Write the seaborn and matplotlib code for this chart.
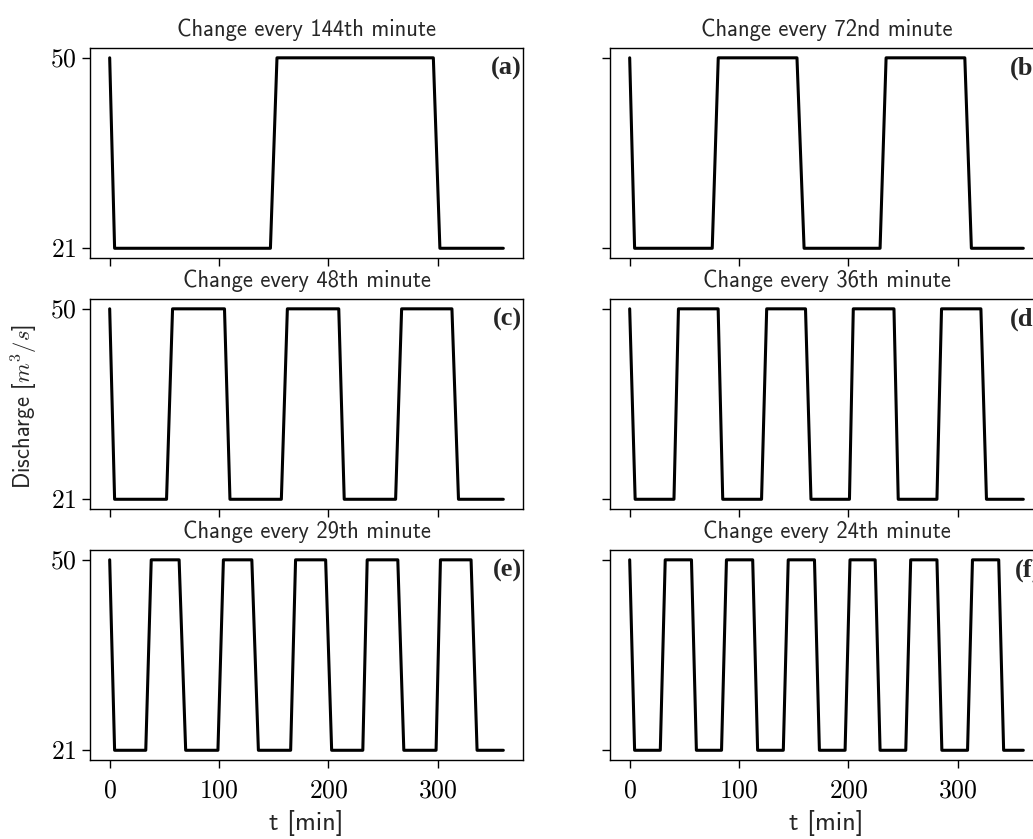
import numpy as np
import pandas as pd
import matplotlib
matplotlib.use("Agg")
import matplotlib.pyplot as plt
import seaborn as sns

# ---- data (corner points) ----
titles = ["Change every 144th minute", "Change every 72nd minute",
          "Change every 48th minute", "Change every 36th minute",
          "Change every 29th minute", "Change every 24th minute"]
panel_labels = ["(a)", "(b)", "(c)", "(d)", "(e)", "(f)"]

t_a = [0, 4.5, 147, 153, 296, 302, 360]
q_a = [50, 21, 21, 50, 50, 21, 21]

t_b = [0, 4.5, 75.5, 81, 153, 159.5, 229, 234.5, 306.5, 312.5, 360]
q_b = [50, 21, 21, 50, 50, 21, 21, 50, 50, 21, 21]

t_c = [0, 4.5, 52, 57.5, 105, 110, 157, 162.5, 209.5, 214.5, 261.5, 267, 313, 319, 360]
q_c = [50, 21, 21, 50, 50, 21, 21, 50, 50, 21, 21, 50, 50, 21, 21]

t_d = [0, 5, 40.5, 44.6, 80.9, 85.1, 120.6, 125.3, 160.8, 165.8, 201, 204.5,
       241.7, 245.6, 281, 285.2, 321.2, 326.3, 360]
q_d = [50, 21, 21, 50, 50, 21, 21, 50, 50, 21, 21, 50, 50, 21, 21, 50, 50, 21, 21]

t_e = [0, 4.5, 33, 38, 63.5, 69.5, 99, 104, 130, 136, 165.5, 170, 197.5, 203,
       231.5, 235.5, 263.5, 269, 298.5, 302.5, 330.5, 336, 360]
q_e = [50, 21, 21, 50, 50, 21, 21, 50, 50, 21, 21, 50, 50, 21, 21, 50, 50, 21,
       21, 50, 50, 21, 21]

t_f = [0, 4.5, 28, 32.5, 56.5, 61, 84, 88.5, 112.5, 117, 140.5, 145, 169, 173.5,
       197, 201.5, 224.5, 229, 252.5, 257, 281, 285.5, 309, 313.5, 337.5, 342, 360]
q_f = [50, 21, 21, 50, 50, 21, 21, 50, 50, 21, 21, 50, 50, 21, 21, 50, 50, 21,
       21, 50, 50, 21, 21, 50, 50, 21, 21]

y_ticks = [21, 50]
x_ticks = [0, 100, 200, 300]
x_label = "t [min]"
y_label = "Discharge [$m^3/s$]"

series = [(t_a, q_a), (t_b, q_b), (t_c, q_c), (t_d, q_d), (t_e, q_e), (t_f, q_f)]

# ---- style ----
sns.set_style("ticks")
plt.rcParams["mathtext.fontset"] = "cm"
plt.rcParams["font.family"] = ["cmss10", "DejaVu Sans"]
plt.rcParams["axes.linewidth"] = 1.0
plt.rcParams["axes.edgecolor"] = "black"
plt.rcParams["xtick.major.size"] = 5.8
plt.rcParams["ytick.major.size"] = 5.8
plt.rcParams["xtick.major.width"] = 1.0
plt.rcParams["ytick.major.width"] = 1.0
plt.rcParams["xtick.color"] = "black"
plt.rcParams["ytick.color"] = "black"

fig = plt.figure(figsize=(10.33, 8.39), dpi=100)

W, H = 1033.0, 839.0
lefts = [90, 610]
width = 433
tops = [48.3, 299.3, 550.3]
height = 209.5

axes = []
for r in range(3):
    for c in range(2):
        ax = fig.add_axes([lefts[c] / W, 1 - (tops[r] + height) / H, width / W, height / H])
        axes.append(ax)

for i, ax in enumerate(axes):
    t, q = series[i]
    df = pd.DataFrame({"t": t, "q": q})
    sns.lineplot(data=df, x="t", y="q", ax=ax, color="black", linewidth=2.2,
                 sort=False, estimator=None)
    ax.set_xlim(-18, 378)
    ax.set_ylim(19.55, 51.45)
    ax.set_yticks(y_ticks)
    ax.set_xticks(x_ticks)
    if i % 2 == 0:
        ax.set_yticklabels([f"${v}$" for v in y_ticks], fontsize=18.5)
    else:
        ax.set_yticklabels([])
    if i >= 4:
        ax.set_xticklabels([f"${v}$" for v in x_ticks], fontsize=18.5)
        ax.tick_params(axis="x", pad=8.5)
        ax.set_xlabel(x_label, fontsize=19, labelpad=5)
    else:
        ax.set_xticklabels([])
        ax.set_xlabel("")
    ax.set_ylabel("")
    ax.set_title(titles[i], fontsize=16.3, pad=9)
    ax.text(0.997, 0.96, panel_labels[i], transform=ax.transAxes, ha="right",
            va="top", fontsize=19, fontweight="bold", family="Liberation Serif")
    for s in ax.spines.values():
        s.set_visible(True)
        s.set_color("black")

fig.text(0.024, 0.515, y_label, rotation=90, ha="center", va="center", fontsize=16.3)

fig.savefig("out.png", dpi=100)
